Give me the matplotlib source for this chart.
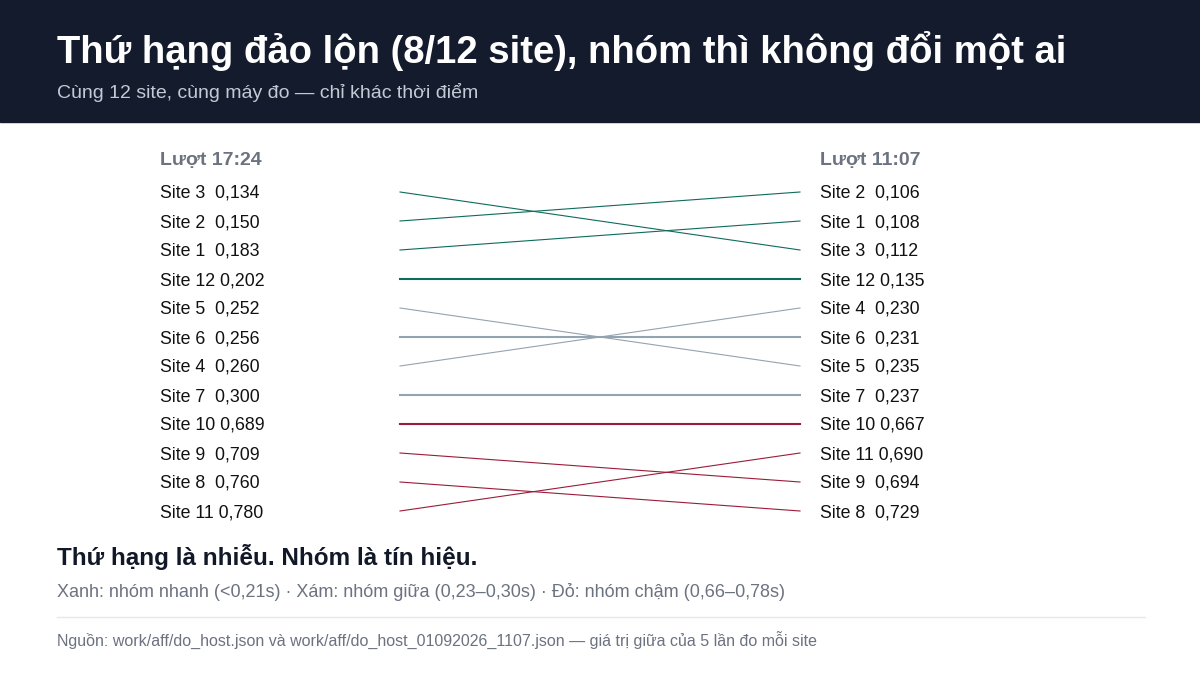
import matplotlib
matplotlib.use("Agg")
import matplotlib.pyplot as plt

plt.rcParams['font.family'] = ['Liberation Sans', 'DejaVu Sans']

left_sites = ["Site 3", "Site 2", "Site 1", "Site 12", "Site 5", "Site 6", "Site 4", "Site 7", "Site 10", "Site 9", "Site 8", "Site 11"]
left_vals = ["0,134", "0,150", "0,183", "0,202", "0,252", "0,256", "0,260", "0,300", "0,689", "0,709", "0,760", "0,780"]
right_sites = ["Site 2", "Site 1", "Site 3", "Site 12", "Site 4", "Site 6", "Site 5", "Site 7", "Site 10", "Site 11", "Site 9", "Site 8"]
right_vals = ["0,106", "0,108", "0,112", "0,135", "0,230", "0,231", "0,235", "0,237", "0,667", "0,690", "0,694", "0,729"]
groups = {"Site 1": "fast", "Site 2": "fast", "Site 3": "fast", "Site 12": "fast",
          "Site 4": "mid", "Site 5": "mid", "Site 6": "mid", "Site 7": "mid",
          "Site 8": "slow", "Site 9": "slow", "Site 10": "slow", "Site 11": "slow"}
colors = {"fast": "#0f6b5c", "mid": "#94a3b0", "slow": "#9b1c3a"}

fig = plt.figure(figsize=(12, 6.75), dpi=100)
ax = fig.add_axes([0, 0, 1, 1])
ax.set_xlim(0, 1200); ax.set_ylim(675, 0); ax.axis('off')

ax.add_patch(plt.Rectangle((0, 0), 1200, 122, color="#141b2d", zorder=0))
ax.text(57, 51, "Thứ hạng đảo lộn (8/12 site), nhóm thì không đổi một ai", color="white",
        fontsize=27.5, fontweight="bold", va="center")
ax.text(57, 93, "Cùng 12 site, cùng máy đo — chỉ khác thời điểm", color="#c4cad4", fontsize=14, va="center")

ax.text(160, 161, "Lượt 17:24", color="#6b7280", fontsize=14, fontweight="bold", va="center")
ax.text(820, 161, "Lượt 11:07", color="#6b7280", fontsize=14, fontweight="bold", va="center")

y0, dy = 192, 29
for i, (s, v) in enumerate(zip(left_sites, left_vals)):
    lab = s + ("  " if len(s) == 6 else " ") + v
    ax.text(160, y0 + i * dy + 1.5, lab, fontsize=12.8, va="center", color="#111111")
for i, (s, v) in enumerate(zip(right_sites, right_vals)):
    lab = s + ("  " if len(s) == 6 else " ") + v
    ax.text(820, y0 + i * dy + 1.5, lab, fontsize=12.8, va="center", color="#111111")
for s in left_sites:
    yl = y0 + left_sites.index(s) * dy
    yr = y0 + right_sites.index(s) * dy
    lw = 1.5 if yl == yr else 0.8
    ax.plot([400, 800], [yl, yr], color=colors[groups[s]], lw=lw)

ax.text(57, 557, "Thứ hạng là nhiễu. Nhóm là tín hiệu.", fontsize=17.5, fontweight="bold", color="#111827", va="center")
ax.text(57, 592, "Xanh: nhóm nhanh (<0,21s) · Xám: nhóm giữa (0,23–0,30s) · Đỏ: nhóm chậm (0,66–0,78s)",
        fontsize=13, color="#6b7280", va="center")
ax.plot([57, 1145], [617, 617], color="#e5e7eb", lw=1)
ax.text(57, 640, "Nguồn: work/aff/do_host.json và work/aff/do_host_01092026_1107.json — giá trị giữa của 5 lần đo mỗi site",
        fontsize=11.5, color="#6b7280", va="center")

fig.savefig("out.png", dpi=100)
